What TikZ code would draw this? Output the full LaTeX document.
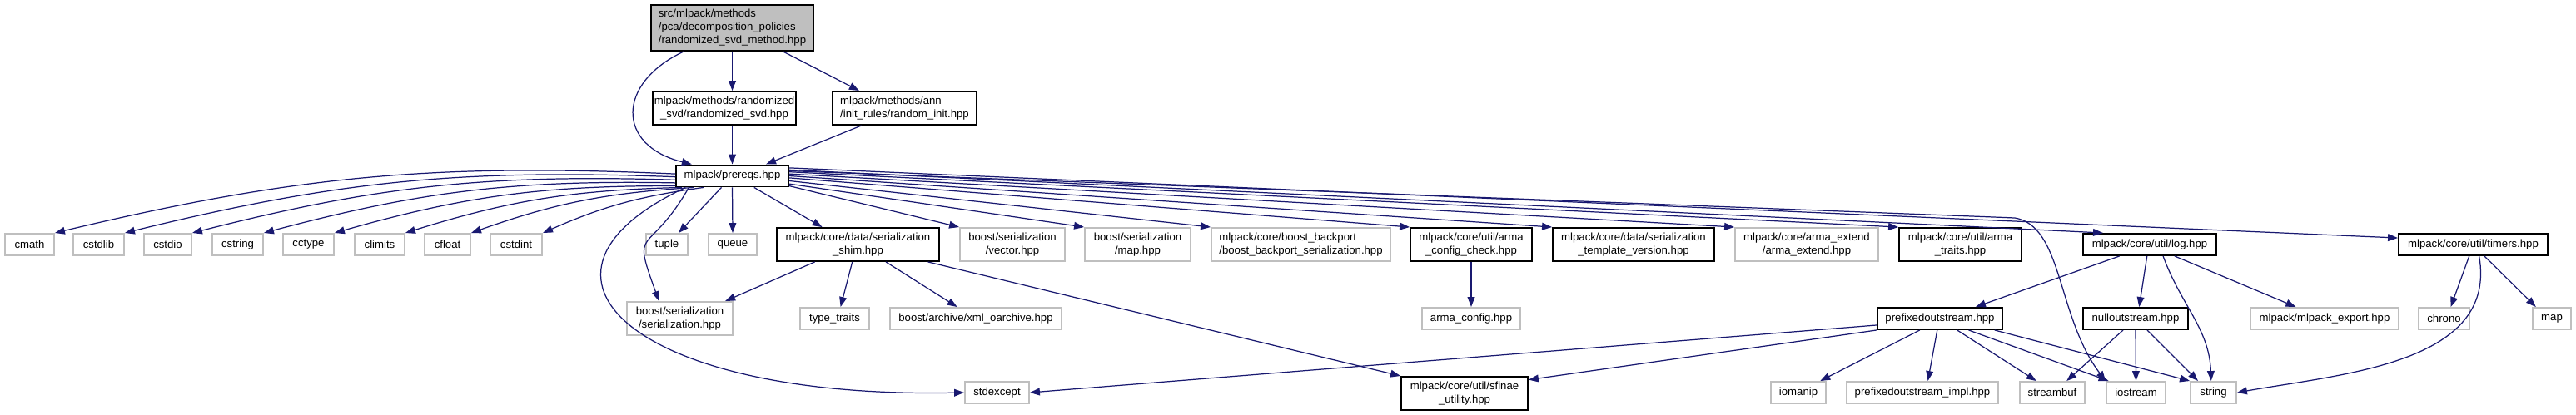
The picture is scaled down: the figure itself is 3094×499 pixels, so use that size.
\documentclass[tikz,border=0pt]{standalone}
\usepackage{fontspec}
\setmainfont{Liberation Sans}
\usetikzlibrary{arrows.meta}
\definecolor{EdgeBlue}{HTML}{191970}
\definecolor{BoxGray}{HTML}{BFBFBF}
\newcommand{\graphfont}{\fontsize{7.5}{9.1}\selectfont}

\tikzset{
  incbox/.style={draw=black, line width=1.1pt, fill=white, inner sep=1pt, font=\graphfont, align=center, minimum height=0.52cm},
  sysbox/.style={incbox, draw=BoxGray},
  mainbox/.style={incbox, fill=BoxGray},
  twoline/.style={minimum height=0.8cm},
  boxw/.style={minimum width=#1*0.02cm},
  dep/.style={draw=EdgeBlue, line width=0.7pt, -{Triangle[length=6.8pt, width=5pt]}},
}

\begin{document}
\begin{tikzpicture}[x=0.02cm, y=-0.02cm]
  \useasboundingbox (0,0) rectangle (3094,499);
  % File and its direct includes
  \node[mainbox, boxw=195, minimum height=1.1cm, align=left] (method) at (879.5,33.5) {src/mlpack/methods\\/pca/decomposition\_policies\\/randomized\_svd\_method.hpp};
  \node[incbox, boxw=168, twoline] (rsvd) at (870,130) {mlpack/methods/randomized\\\_svd/randomized\_svd.hpp};
  \node[incbox, boxw=173, twoline, align=left] (rinit) at (1086.5,130) {mlpack/methods/ann\\/init\_rules/random\_init.hpp};
  \node[incbox, boxw=135] (prereqs) at (879.5,211.5) {mlpack/prereqs.hpp};
  % Standard C headers
  \foreach \n/\x/\w in {cmath/35.5/59, cstdlib/118.5/61, cstdio/201.5/57, cstring/285.5/61, cctype/370.5/61, climits/456/60, cfloat/537.5/55, cstdint/620/62}
    \node[sysbox, boxw=\w] (\n) at (\x,294) {\n};
  % Third row
  \node[sysbox, boxw=50] (tuple) at (801,294) {tuple};
  \node[sysbox, boxw=58] (queue) at (880,294) {queue};
  \node[incbox, boxw=195, twoline] (shim) at (1030.5,294) {mlpack/core/data/serialization\\\_shim.hpp};
  \node[sysbox, boxw=126, twoline] (vector) at (1216,294) {boost/serialization\\/vector.hpp};
  \node[sysbox, boxw=127, twoline] (maphpp) at (1366.5,294) {boost/serialization\\/map.hpp};
  \node[sysbox, boxw=215, twoline, align=left] (backport) at (1562.5,294) {mlpack/core/boost\_backport\\/boost\_backport\_serialization.hpp};
  \node[incbox, boxw=146, twoline] (armacheck) at (1767,294) {mlpack/core/util/arma\\\_config\_check.hpp};
  \node[incbox, boxw=194, twoline] (tmplver) at (1962,294) {mlpack/core/data/serialization\\\_template\_version.hpp};
  \node[sysbox, boxw=172, twoline] (armaext) at (2170,294) {mlpack/core/arma\_extend\\/arma\_extend.hpp};
  \node[incbox, boxw=147, twoline] (armatraits) at (2354.5,294) {mlpack/core/util/arma\\\_traits.hpp};
  \node[incbox, boxw=160] (log) at (2582,294) {mlpack/core/util/log.hpp};
  \node[incbox, boxw=179] (timers) at (2970.5,294) {mlpack/core/util/timers.hpp};
  % Fourth row
  \node[sysbox, boxw=127, twoline] (serialization) at (816.5,383) {boost/serialization\\/serialization.hpp};
  \node[sysbox, boxw=83] (typetraits) at (1002.5,383) {type\_traits};
  \node[sysbox, boxw=206] (xmlarch) at (1172,383) {boost/archive/xml\_oarchive.hpp};
  \node[sysbox, boxw=118] (armaconfig) at (1767,383) {arma\_config.hpp};
  \node[incbox, boxw=150] (prefixed) at (2330,383) {prefixedoutstream.hpp};
  \node[incbox, boxw=126] (nullout) at (2565,383) {nulloutstream.hpp};
  \node[sysbox, boxw=178] (export) at (2792,383) {mlpack/mlpack\_export.hpp};
  \node[sysbox, boxw=61] (chrono) at (2935.5,383) {chrono};
  \node[sysbox, boxw=46] (stdmap) at (3065,383) {map};
  % Bottom row
  \node[sysbox, boxw=77] (stdexcept) at (1197.5,472) {stdexcept};
  \node[incbox, boxw=152, twoline] (sfinae) at (1759,473) {mlpack/core/util/sfinae\\\_utility.hpp};
  \node[sysbox, boxw=66] (iomanip) at (2160,472) {iomanip};
  \node[sysbox, boxw=182] (pimpl) at (2309,472) {prefixedoutstream\_impl.hpp};
  \node[sysbox, boxw=78] (streambuf) at (2465,472) {streambuf};
  \node[sysbox, boxw=71] (iostream) at (2565.5,472) {iostream};
  \node[sysbox, boxw=55] (string) at (2658.5,472) {string};

  % Edges from the file
  \draw[dep] (method.south) -- (method.south |- rsvd.north);
  \draw[dep] (method.335) -- (rinit.159);
  \draw[dep] (method.206) .. controls (740,100) and (740,175) .. (prereqs.164);
  \draw[dep] (prereqs.north |- rsvd.south) -- (prereqs.north);
  \draw[dep] (rinit.202) -- (prereqs.19);
  % Edges from prereqs
  \foreach \n/\a in {cmath/178, cstdlib/181, cstdio/184, cstring/187, cctype/190, climits/193, cfloat/197, cstdint/202}
    \draw[dep] (prereqs.\a) to[bend right=8] (\n.north east);
  \draw[dep] (prereqs.227) -- (tuple.45);
  \draw[dep] (prereqs.south) -- (queue.north);
  \draw[dep] (prereqs.332) -- (shim.154);
  \foreach \n/\a in {vector/350, maphpp/352, backport/355, armacheck/358, tmplver/0, armaext/2, armatraits/4}
    \draw[dep] (prereqs.\a) -- (\n.north west);
  \draw[dep] (prereqs.6) -- (log.166);
  \draw[dep] (prereqs.8) -- (timers.175);
  \coordinate (iobend) at (2420,262);
  \draw[dep] (prereqs.5) -- (iobend) .. controls (2478,272) and (2470,380) .. (iostream.north west);
  \draw[dep] (prereqs.195) to[out=240, in=110, looseness=1.8] (serialization.140);
  \draw[dep] (prereqs.194) .. controls (600,330) and (760,480) .. (stdexcept.west);
  % Edges from shim
  \draw[dep] (shim.202) -- (serialization.21);
  \draw[dep] (shim.252) -- (typetraits.63);
  \draw[dep] (shim.328) -- (xmlarch.148);
  \draw[dep] (shim.346) -- (sfinae.north west);
  \draw[dep] (armacheck) -- (armaconfig);
  % Edges from log and timers
  \draw[dep] (log.201) -- (prefixed.18);
  \draw[dep] (log.257) -- (nullout.73);
  \draw[dep] (log.319) to[out=290, in=92] (string.101);
  \draw[dep] (log.335) -- (export.158);
  \draw[dep] (timers.251) -- (chrono.60);
  \draw[dep] (timers.314) -- (stdmap.144);
  \draw[dep] (timers.297) to[out=280, in=10] (string.east);
  % Edges from the stream headers
  \draw[dep] (prefixed.186) -- (stdexcept.east);
  \draw[dep] (prefixed.south west) -- (sfinae.12);
  \draw[dep] (prefixed.210) -- (iomanip.28);
  \draw[dep] (prefixed.257) -- (pimpl.65);
  \draw[dep] (prefixed.326) -- (streambuf.144);
  \draw[dep] (prefixed.338) -- (iostream.157);
  \draw[dep] (prefixed.348) -- (string.north west);
  \draw[dep] (nullout.223) -- (streambuf.39);
  \draw[dep] (nullout.south) -- (iostream.north);
  \draw[dep] (nullout.315) -- (string.143);
\end{tikzpicture}
\end{document}
